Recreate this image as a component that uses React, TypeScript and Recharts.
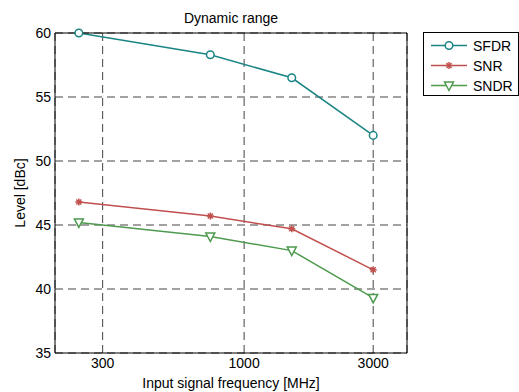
import React from 'react';
import { LineChart, Line, XAxis, YAxis, CartesianGrid, Legend } from 'recharts';

const freqs = [245, 750, 1500, 3000];
const sfdr = [60, 58.3, 56.5, 52];
const snr = [46.8, 45.7, 44.7, 41.5];
const sndr = [45.2, 44.1, 43.0, 39.3];

const xTicks = [300, 1000, 3000];
const yTicks = [35, 40, 45, 50, 55, 60];

const data = freqs.map((f, i) => ({ f, sfdr: sfdr[i], snr: snr[i], sndr: sndr[i] }));

const FONT = '"Liberation Sans", Arial, sans-serif';
const TEAL = '#1b8585';
const RED = '#c0504d';
const GREEN = '#4e9a4e';

const series = [
  { key: 'sfdr', name: 'SFDR', color: TEAL, marker: 'circle' },
  { key: 'snr', name: 'SNR', color: RED, marker: 'star' },
  { key: 'sndr', name: 'SNDR', color: GREEN, marker: 'tri' },
];

const Marker = ({ cx, cy, kind, color }: { cx: number; cy: number; kind: string; color: string }) => {
  if (kind === 'circle') {
    return <circle cx={cx} cy={cy} r={3.8} fill="#fff" stroke={color} strokeWidth={1.5} />;
  }
  if (kind === 'star') {
    const s = 3.5;
    const d = 2.5;
    return (
      <g stroke={color} strokeWidth={1.5}>
        <line x1={cx - s} y1={cy} x2={cx + s} y2={cy} />
        <line x1={cx} y1={cy - s} x2={cx} y2={cy + s} />
        <line x1={cx - d} y1={cy - d} x2={cx + d} y2={cy + d} />
        <line x1={cx - d} y1={cy + d} x2={cx + d} y2={cy - d} />
      </g>
    );
  }
  return (
    <path
      d={`M${cx - 4.5},${cy - 3.5} L${cx + 4.5},${cy - 3.5} L${cx},${cy + 5} Z`}
      fill="#fff"
      stroke={color}
      strokeWidth={1.5}
    />
  );
};

const dotFor = (kind: string, color: string) => (props: any) => {
  const { cx, cy, index } = props;
  if (cx == null || cy == null) return <g key={index} />;
  return <Marker key={index} cx={cx} cy={cy} kind={kind} color={color} />;
};

const LegendBox = () => (
  <svg width={96} height={64} style={{ display: 'block' }}>
    <rect x={0.5} y={0.5} width={95} height={63} fill="#fff" stroke="#000" strokeWidth={1} />
    {series.map((s, i) => {
      const y = 13.5 + i * 20;
      return (
        <g key={s.key}>
          <line x1={8} y1={y} x2={44} y2={y} stroke={s.color} strokeWidth={1.5} />
          <Marker cx={26} cy={y} kind={s.marker} color={s.color} />
          <text x={50} y={y + 5} fontFamily={FONT} fontSize={14} fill="#000">
            {s.name}
          </text>
        </g>
      );
    })}
  </svg>
);

export default function App() {
  return (
    <div style={{ position: 'absolute', left: 0, top: 0, width: 519, height: 392, background: '#fff' }}>
      <LineChart
        width={519}
        height={392}
        data={data}
        margin={{ top: 32, right: 111, bottom: 0, left: 0 }}
        style={{ fontFamily: FONT }}
      >
        <CartesianGrid stroke="#444" strokeDasharray="8 5" />
        <XAxis
          dataKey="f"
          type="number"
          scale="log"
          domain={[200, 4000]}
          allowDataOverflow
          ticks={xTicks}
          height={39}
          tickSize={0}
          tickMargin={5}
          tickLine={false}
          axisLine={{ stroke: '#000' }}
          tick={{ fontSize: 14, fill: '#000', fontFamily: FONT }}
          label={{ value: 'Input signal frequency [MHz]', position: 'insideBottom', offset: 4, fontSize: 14, fill: '#000', fontFamily: FONT }}
        />
        <XAxis
          xAxisId="top"
          orientation="top"
          dataKey="f"
          type="number"
          scale="log"
          domain={[200, 4000]}
          allowDataOverflow
          height={1}
          tick={false}
          tickLine={false}
          axisLine={{ stroke: '#000' }}
          label={{ value: 'Dynamic range', position: 'top', offset: 9, fontSize: 14, fill: '#000', fontFamily: FONT }}
        />
        <YAxis
          type="number"
          domain={[35, 60]}
          ticks={yTicks}
          width={55}
          tickSize={0}
          tickMargin={4}
          tickLine={false}
          axisLine={{ stroke: '#000' }}
          tick={{ fontSize: 14, fill: '#000', fontFamily: FONT }}
          label={{ value: 'Level [dBc]', angle: -90, position: 'insideLeft', offset: 20, fontSize: 14, fill: '#000', fontFamily: FONT, style: { textAnchor: 'middle' } }}
        />
        <YAxis
          yAxisId="right"
          orientation="right"
          type="number"
          domain={[35, 60]}
          width={1}
          tick={false}
          tickLine={false}
          axisLine={{ stroke: '#000' }}
        />
        {series.map((s) => (
          <Line
            key={s.key}
            dataKey={s.key}
            name={s.name}
            stroke={s.color}
            strokeWidth={1.5}
            dot={dotFor(s.marker, s.color)}
            activeDot={false}
            isAnimationActive={false}
          />
        ))}
        <Legend
          layout="vertical"
          align="center"
          verticalAlign="middle"
          wrapperStyle={{ left: 423, top: 32, width: 96, height: 64 }}
          content={() => <LegendBox />}
        />
      </LineChart>
    </div>
  );
}
